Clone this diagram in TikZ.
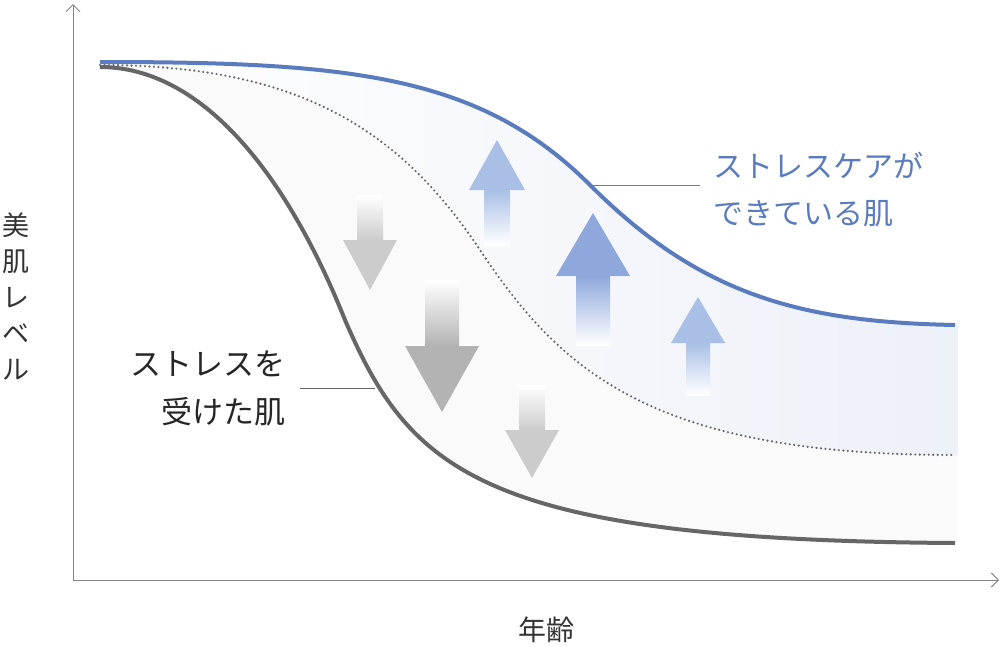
\documentclass[tikz,border=0pt]{standalone}
\usepackage{fontspec}
\newfontfamily\jp{Noto Sans CJK JP}
\usetikzlibrary{arrows.meta}
\definecolor{cblue}{HTML}{5B7BBF}
\definecolor{cgray}{HTML}{666666}
\definecolor{lblue}{HTML}{A9BFE6}
\definecolor{mblue}{HTML}{8EA8DC}
\definecolor{lgray}{HTML}{CCCCCC}
\definecolor{mgray}{HTML}{B3B3B3}
\tikzset{axis/.style={draw=cgray!80,line width=1pt,-{Straight Barb[length=7pt,width=14pt]}},
 lbl/.style={font=\jp\fontsize{30}{34}\selectfont,inner sep=0pt},
 leader/.style={line width=0.8pt}}
\newcommand{\uparr}[8]{%
 \shade[top color=#8,bottom color=white] (#1-#6,#3) rectangle (#1+#6,#7);
 \fill[#8] (#1,#2)--(#1+#5,#3)--(#1-#5,#3)--cycle;}
\newcommand{\dnarr}[8]{%
 \shade[bottom color=#8,top color=white] (#1-#6,#7) rectangle (#1+#6,#3);
 \fill[#8] (#1,#2)--(#1+#5,#3)--(#1-#5,#3)--cycle;}
\begin{document}
\begin{tikzpicture}[x=1pt,y=-1pt]
\useasboundingbox (0,0) rectangle (1002,646);
% fills
\fill[gray!4] (100,65) .. controls (300,65) and (400,130) .. (480,250) .. controls (560,370) and (650,455) .. (958,455)
 -- (958,543) -- (955,543) .. controls (480,540) and (410,470) .. (345,320) .. controls (285,170) and (200,67) .. (100,67) -- cycle;
\shade[left color=white,right color=cblue!11] (100,62) .. controls (350,62) and (480,75) .. (590,185) .. controls (700,295) and (800,322) .. (958,325)
 -- (958,455) -- (955,455) .. controls (650,455) and (560,370) .. (480,250) .. controls (400,130) and (300,65) .. (100,65) -- cycle;
% arrows
\uparr{497}{140}{190}{0}{28}{13}{245}{lblue}
\uparr{593}{213}{276}{0}{37}{17}{345}{mblue}
\uparr{698}{297}{343}{0}{27}{12}{395}{lblue}
\dnarr{370}{290}{240}{0}{27}{13}{195}{lgray}
\dnarr{442}{412}{346}{0}{37}{17}{280}{mgray}
\dnarr{532}{478}{430}{0}{27}{13}{385}{lgray}
% axes
\coordinate (O) at (73,580);
\coordinate (Y) at (73,4);
\coordinate (X) at (999,580);
\draw[axis] (O) -- (Y);
\draw[axis] (O) -- (X);
% curves
\draw[cgray,line width=2.4pt,line cap=round,dash pattern=on 0pt off 4.5pt] (100,65) .. controls (300,65) and (400,130) .. (480,250) .. controls (560,370) and (650,455) .. (955,455);
\draw[cgray,line width=4pt] (100,67) .. controls (200,67) and (285,170) .. (345,320) .. controls (410,470) and (480,540) .. (955,543);
\draw[cblue,line width=4pt] (100,62) .. controls (350,62) and (480,75) .. (590,185) .. controls (700,295) and (800,322) .. (955,325);
% labels
\node[lbl,text=cblue,anchor=west] (b1) at (713,165) {ストレスケアが};
\node[lbl,text=cblue,anchor=west] (b2) at (713,214) {できている肌};
\coordinate (bp) at (590,185);
\draw[cblue,leader] (bp) -- (700,185);
\node[lbl,text=black!85,anchor=east,font=\jp\fontsize{31}{34}\selectfont] (g1) at (286,364) {ストレスを};
\node[lbl,text=black!85,anchor=east,font=\jp\fontsize{31}{34}\selectfont] (g2) at (286,412) {受けた肌};
\coordinate (gp) at (375,388);
\draw[cgray,leader] (300,388) -- (gp);
\node[lbl,text=black!80,align=center,font=\jp\fontsize{27}{36}\selectfont] (yl) at (16,296) {美\\肌\\レ\\ベ\\ル};
\node[lbl,text=black!80,font=\jp\fontsize{28}{32}\selectfont] (xl) at (546,630) {年齢};
\end{tikzpicture}
\end{document}
